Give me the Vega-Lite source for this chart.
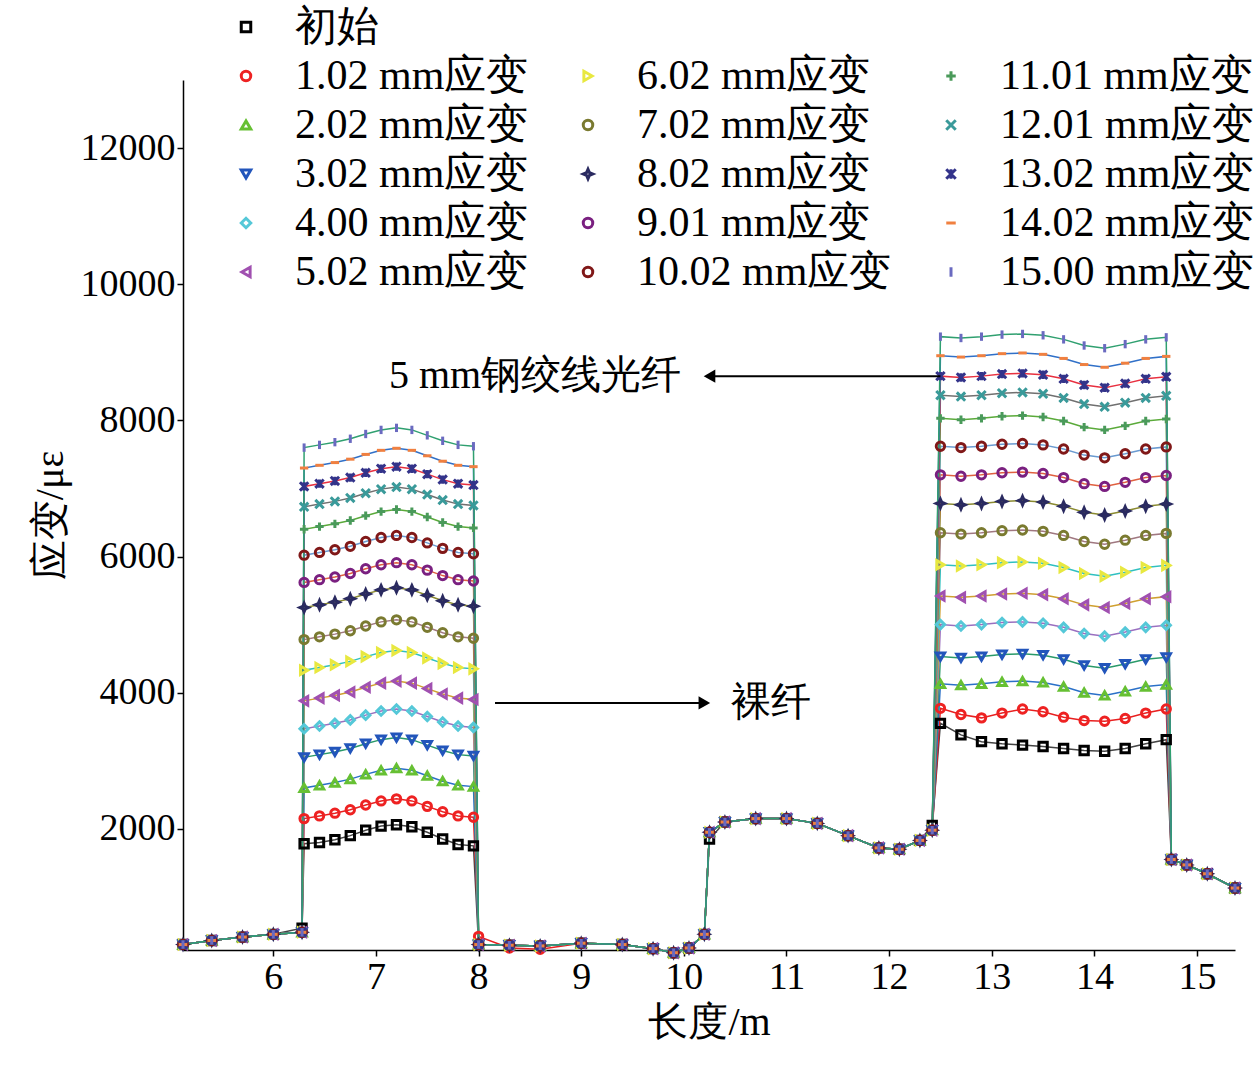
{
  "$schema": "https://vega.github.io/schema/vega-lite/v6.json",
  "width": 1052,
  "height": 870,
  "autosize": "none",
  "padding": {"left": 183, "top": 80, "right": 24, "bottom": 124},
  "background": "white",
  "config": {
    "view": {"stroke": null},
    "font": "Liberation Serif",
    "axis": {"grid": false, "domainColor": "black", "tickColor": "black", "labelColor": "black", "titleColor": "black", "labelFont": "Liberation Serif", "titleFont": "Liberation Serif", "labelFontSize": 38, "titleFontSize": 40, "titleFontWeight": "normal", "domainWidth": 1.5, "tickWidth": 1.5, "tickSize": 6}
  },
  "datasets": {
    "notes": [
      {"x": 8.55, "y": 8650, "label": "5 mm钢绞线光纤"},
      {"x": 10.85, "y": 3850, "label": "裸纤"}
    ],
    "arrows": [
      {"x1": 12.5, "x2": 10.25, "y": 8650, "dir": "left", "hx": 10.25},
      {"x1": 8.16, "x2": 10.2, "y": 3850, "dir": "right", "hx": 10.2}
    ]
  },
  "data": {"values": [
    {"x":5.12,"k00":300,"k01":300,"k02":300,"k03":300,"k04":300,"k05":300,"k06":300,"k07":300,"k08":300,"k09":300,"k10":300,"k11":300,"k12":300,"k13":300,"k14":300,"k15":300},
    {"x":5.4,"k00":360,"k01":360,"k02":360,"k03":360,"k04":360,"k05":360,"k06":360,"k07":360,"k08":360,"k09":360,"k10":360,"k11":360,"k12":360,"k13":360,"k14":360,"k15":360},
    {"x":5.7,"k00":410,"k01":410,"k02":410,"k03":410,"k04":410,"k05":410,"k06":410,"k07":410,"k08":410,"k09":410,"k10":410,"k11":410,"k12":410,"k13":410,"k14":410,"k15":410},
    {"x":6.0,"k00":450,"k01":450,"k02":450,"k03":450,"k04":450,"k05":450,"k06":450,"k07":450,"k08":450,"k09":450,"k10":450,"k11":450,"k12":450,"k13":450,"k14":450,"k15":450},
    {"x":6.28,"k00":540,"k01":480,"k02":480,"k03":480,"k04":480,"k05":480,"k06":480,"k07":480,"k08":480,"k09":480,"k10":480,"k11":480,"k12":480,"k13":480,"k14":480,"k15":480},
    {"x":6.30,"k00":1780,"k01":2150,"k02":2600,"k03":3050,"k04":3470,"k05":3880,"k06":4330,"k07":4780,"k08":5250,"k09":5620,"k10":6020,"k11":6400,"k12":6730,"k13":7030,"k14":7300,"k15":7600},
    {"x":6.45,"k00":1800,"k01":2190,"k02":2640,"k03":3090,"k04":3510,"k05":3920,"k06":4370,"k07":4820,"k08":5290,"k09":5660,"k10":6060,"k11":6440,"k12":6770,"k13":7070,"k14":7340,"k15":7640},
    {"x":6.60,"k00":1840,"k01":2230,"k02":2680,"k03":3130,"k04":3550,"k05":3960,"k06":4410,"k07":4860,"k08":5330,"k09":5700,"k10":6100,"k11":6480,"k12":6810,"k13":7110,"k14":7380,"k15":7680},
    {"x":6.75,"k00":1900,"k01":2280,"k02":2730,"k03":3180,"k04":3600,"k05":4010,"k06":4460,"k07":4910,"k08":5380,"k09":5750,"k10":6150,"k11":6530,"k12":6860,"k13":7160,"k14":7430,"k15":7730},
    {"x":6.90,"k00":1980,"k01":2350,"k02":2800,"k03":3250,"k04":3670,"k05":4080,"k06":4530,"k07":4980,"k08":5450,"k09":5820,"k10":6220,"k11":6600,"k12":6930,"k13":7230,"k14":7500,"k15":7800},
    {"x":7.05,"k00":2040,"k01":2410,"k02":2860,"k03":3310,"k04":3730,"k05":4140,"k06":4590,"k07":5040,"k08":5510,"k09":5880,"k10":6280,"k11":6660,"k12":6990,"k13":7290,"k14":7560,"k15":7860},
    {"x":7.20,"k00":2060,"k01":2440,"k02":2890,"k03":3340,"k04":3760,"k05":4170,"k06":4620,"k07":5070,"k08":5540,"k09":5910,"k10":6310,"k11":6690,"k12":7020,"k13":7320,"k14":7590,"k15":7890},
    {"x":7.35,"k00":2030,"k01":2410,"k02":2860,"k03":3310,"k04":3730,"k05":4140,"k06":4590,"k07":5040,"k08":5510,"k09":5880,"k10":6280,"k11":6660,"k12":6990,"k13":7290,"k14":7560,"k15":7860},
    {"x":7.50,"k00":1950,"k01":2330,"k02":2780,"k03":3230,"k04":3650,"k05":4060,"k06":4510,"k07":4960,"k08":5430,"k09":5800,"k10":6200,"k11":6580,"k12":6910,"k13":7210,"k14":7480,"k15":7780},
    {"x":7.65,"k00":1850,"k01":2250,"k02":2700,"k03":3150,"k04":3570,"k05":3980,"k06":4430,"k07":4880,"k08":5350,"k09":5720,"k10":6120,"k11":6500,"k12":6830,"k13":7130,"k14":7400,"k15":7700},
    {"x":7.80,"k00":1770,"k01":2190,"k02":2640,"k03":3090,"k04":3510,"k05":3920,"k06":4370,"k07":4820,"k08":5290,"k09":5660,"k10":6060,"k11":6440,"k12":6770,"k13":7070,"k14":7340,"k15":7640},
    {"x":7.95,"k00":1750,"k01":2170,"k02":2620,"k03":3070,"k04":3490,"k05":3900,"k06":4350,"k07":4800,"k08":5270,"k09":5640,"k10":6040,"k11":6420,"k12":6750,"k13":7050,"k14":7320,"k15":7620},
    {"x":8.0,"k00":300,"k01":420,"k02":300,"k03":300,"k04":300,"k05":300,"k06":300,"k07":300,"k08":300,"k09":300,"k10":300,"k11":300,"k12":300,"k13":300,"k14":300,"k15":300},
    {"x":8.3,"k00":290,"k01":250,"k02":290,"k03":290,"k04":290,"k05":290,"k06":290,"k07":290,"k08":290,"k09":290,"k10":290,"k11":290,"k12":290,"k13":290,"k14":290,"k15":290},
    {"x":8.6,"k00":280,"k01":230,"k02":280,"k03":280,"k04":280,"k05":280,"k06":280,"k07":280,"k08":280,"k09":280,"k10":280,"k11":280,"k12":280,"k13":280,"k14":280,"k15":280},
    {"x":9.0,"k00":320,"k01":320,"k02":320,"k03":320,"k04":320,"k05":320,"k06":320,"k07":320,"k08":320,"k09":320,"k10":320,"k11":320,"k12":320,"k13":320,"k14":320,"k15":320},
    {"x":9.4,"k00":300,"k01":300,"k02":300,"k03":300,"k04":300,"k05":300,"k06":300,"k07":300,"k08":300,"k09":300,"k10":300,"k11":300,"k12":300,"k13":300,"k14":300,"k15":300},
    {"x":9.7,"k00":240,"k01":240,"k02":240,"k03":240,"k04":240,"k05":240,"k06":240,"k07":240,"k08":240,"k09":240,"k10":240,"k11":240,"k12":240,"k13":240,"k14":240,"k15":240},
    {"x":9.9,"k00":180,"k01":180,"k02":180,"k03":180,"k04":180,"k05":180,"k06":180,"k07":180,"k08":180,"k09":180,"k10":180,"k11":180,"k12":180,"k13":180,"k14":180,"k15":180},
    {"x":10.05,"k00":250,"k01":250,"k02":250,"k03":250,"k04":250,"k05":250,"k06":250,"k07":250,"k08":250,"k09":250,"k10":250,"k11":250,"k12":250,"k13":250,"k14":250,"k15":250},
    {"x":10.2,"k00":450,"k01":450,"k02":450,"k03":450,"k04":450,"k05":450,"k06":450,"k07":450,"k08":450,"k09":450,"k10":450,"k11":450,"k12":450,"k13":450,"k14":450,"k15":450},
    {"x":10.25,"k00":1850,"k01":1950,"k02":1950,"k03":1950,"k04":1950,"k05":1950,"k06":1950,"k07":1950,"k08":1950,"k09":1950,"k10":1950,"k11":1950,"k12":1950,"k13":1950,"k14":1950,"k15":1950},
    {"x":10.4,"k00":2100,"k01":2100,"k02":2100,"k03":2100,"k04":2100,"k05":2100,"k06":2100,"k07":2100,"k08":2100,"k09":2100,"k10":2100,"k11":2100,"k12":2100,"k13":2100,"k14":2100,"k15":2100},
    {"x":10.7,"k00":2150,"k01":2150,"k02":2150,"k03":2150,"k04":2150,"k05":2150,"k06":2150,"k07":2150,"k08":2150,"k09":2150,"k10":2150,"k11":2150,"k12":2150,"k13":2150,"k14":2150,"k15":2150},
    {"x":11.0,"k00":2150,"k01":2150,"k02":2150,"k03":2150,"k04":2150,"k05":2150,"k06":2150,"k07":2150,"k08":2150,"k09":2150,"k10":2150,"k11":2150,"k12":2150,"k13":2150,"k14":2150,"k15":2150},
    {"x":11.3,"k00":2080,"k01":2080,"k02":2080,"k03":2080,"k04":2080,"k05":2080,"k06":2080,"k07":2080,"k08":2080,"k09":2080,"k10":2080,"k11":2080,"k12":2080,"k13":2080,"k14":2080,"k15":2080},
    {"x":11.6,"k00":1900,"k01":1900,"k02":1900,"k03":1900,"k04":1900,"k05":1900,"k06":1900,"k07":1900,"k08":1900,"k09":1900,"k10":1900,"k11":1900,"k12":1900,"k13":1900,"k14":1900,"k15":1900},
    {"x":11.9,"k00":1720,"k01":1720,"k02":1720,"k03":1720,"k04":1720,"k05":1720,"k06":1720,"k07":1720,"k08":1720,"k09":1720,"k10":1720,"k11":1720,"k12":1720,"k13":1720,"k14":1720,"k15":1720},
    {"x":12.1,"k00":1700,"k01":1700,"k02":1700,"k03":1700,"k04":1700,"k05":1700,"k06":1700,"k07":1700,"k08":1700,"k09":1700,"k10":1700,"k11":1700,"k12":1700,"k13":1700,"k14":1700,"k15":1700},
    {"x":12.3,"k00":1830,"k01":1830,"k02":1830,"k03":1830,"k04":1830,"k05":1830,"k06":1830,"k07":1830,"k08":1830,"k09":1830,"k10":1830,"k11":1830,"k12":1830,"k13":1830,"k14":1830,"k15":1830},
    {"x":12.42,"k00":2050,"k01":1980,"k02":1980,"k03":1980,"k04":1980,"k05":1980,"k06":1980,"k07":1980,"k08":1980,"k09":1980,"k10":1980,"k11":1980,"k12":1980,"k13":1980,"k14":1980,"k15":1980},
    {"x":12.50,"k00":3550,"k01":3770,"k02":4130,"k03":4530,"k04":5000,"k05":5420,"k06":5880,"k07":6350,"k08":6780,"k09":7200,"k10":7620,"k11":8030,"k12":8370,"k13":8650,"k14":8950,"k15":9230},
    {"x":12.70,"k00":3380,"k01":3680,"k02":4110,"k03":4510,"k04":4980,"k05":5400,"k06":5860,"k07":6330,"k08":6760,"k09":7180,"k10":7600,"k11":8010,"k12":8350,"k13":8630,"k14":8930,"k15":9210},
    {"x":12.90,"k00":3280,"k01":3630,"k02":4130,"k03":4530,"k04":5000,"k05":5420,"k06":5880,"k07":6350,"k08":6780,"k09":7200,"k10":7620,"k11":8030,"k12":8370,"k13":8650,"k14":8950,"k15":9230},
    {"x":13.10,"k00":3250,"k01":3700,"k02":4160,"k03":4560,"k04":5030,"k05":5450,"k06":5910,"k07":6380,"k08":6810,"k09":7230,"k10":7650,"k11":8060,"k12":8400,"k13":8680,"k14":8980,"k15":9260},
    {"x":13.30,"k00":3230,"k01":3760,"k02":4170,"k03":4570,"k04":5040,"k05":5460,"k06":5920,"k07":6390,"k08":6820,"k09":7240,"k10":7660,"k11":8070,"k12":8410,"k13":8690,"k14":8990,"k15":9270},
    {"x":13.50,"k00":3210,"k01":3720,"k02":4150,"k03":4550,"k04":5020,"k05":5440,"k06":5900,"k07":6370,"k08":6800,"k09":7220,"k10":7640,"k11":8050,"k12":8390,"k13":8670,"k14":8970,"k15":9250},
    {"x":13.70,"k00":3180,"k01":3640,"k02":4090,"k03":4490,"k04":4960,"k05":5380,"k06":5840,"k07":6310,"k08":6740,"k09":7160,"k10":7580,"k11":7990,"k12":8330,"k13":8610,"k14":8910,"k15":9190},
    {"x":13.90,"k00":3150,"k01":3590,"k02":4000,"k03":4400,"k04":4870,"k05":5290,"k06":5750,"k07":6220,"k08":6650,"k09":7070,"k10":7490,"k11":7900,"k12":8240,"k13":8520,"k14":8820,"k15":9100},
    {"x":14.10,"k00":3140,"k01":3580,"k02":3960,"k03":4360,"k04":4830,"k05":5250,"k06":5710,"k07":6180,"k08":6610,"k09":7030,"k10":7450,"k11":7860,"k12":8200,"k13":8480,"k14":8780,"k15":9060},
    {"x":14.30,"k00":3180,"k01":3620,"k02":4020,"k03":4420,"k04":4890,"k05":5310,"k06":5770,"k07":6240,"k08":6670,"k09":7090,"k10":7510,"k11":7920,"k12":8260,"k13":8540,"k14":8840,"k15":9120},
    {"x":14.50,"k00":3250,"k01":3700,"k02":4090,"k03":4490,"k04":4960,"k05":5380,"k06":5840,"k07":6310,"k08":6740,"k09":7160,"k10":7580,"k11":7990,"k12":8330,"k13":8610,"k14":8910,"k15":9190},
    {"x":14.70,"k00":3310,"k01":3760,"k02":4120,"k03":4520,"k04":4990,"k05":5410,"k06":5870,"k07":6340,"k08":6770,"k09":7190,"k10":7610,"k11":8020,"k12":8360,"k13":8640,"k14":8940,"k15":9220},
    {"x":14.75,"k00":1550,"k01":1550,"k02":1550,"k03":1550,"k04":1550,"k05":1550,"k06":1550,"k07":1550,"k08":1550,"k09":1550,"k10":1550,"k11":1550,"k12":1550,"k13":1550,"k14":1550,"k15":1550},
    {"x":14.9,"k00":1470,"k01":1470,"k02":1470,"k03":1470,"k04":1470,"k05":1470,"k06":1470,"k07":1470,"k08":1470,"k09":1470,"k10":1470,"k11":1470,"k12":1470,"k13":1470,"k14":1470,"k15":1470},
    {"x":15.1,"k00":1340,"k01":1340,"k02":1340,"k03":1340,"k04":1340,"k05":1340,"k06":1340,"k07":1340,"k08":1340,"k09":1340,"k10":1340,"k11":1340,"k12":1340,"k13":1340,"k14":1340,"k15":1340},
    {"x":15.37,"k00":1130,"k01":1130,"k02":1130,"k03":1130,"k04":1130,"k05":1130,"k06":1130,"k07":1130,"k08":1130,"k09":1130,"k10":1130,"k11":1130,"k12":1130,"k13":1130,"k14":1130,"k15":1130}
  ]},
  "transform": [
    {"fold": ["k00","k01","k02","k03","k04","k05","k06","k07","k08","k09","k10","k11","k12","k13","k14","k15"], "as": ["k", "v"]}
  ],
  "encoding": {
    "x": {"field": "x", "type": "quantitative", "title": "长度/m", "scale": {"domain": [5.12, 15.37], "nice": false, "zero": false}, "axis": {"values": [6,7,8,9,10,11,12,13,14,15], "titlePadding": 6}},
    "y": {"field": "v", "type": "quantitative", "title": "应变/με", "scale": {"domain": [220, 13000], "nice": false, "zero": false}, "axis": {"values": [2000,4000,6000,8000,10000,12000], "format": "d", "titlePadding": 10}}
  },
  "layer": [
    {
      "mark": {"type": "line", "strokeWidth": 1.5},
      "encoding": {
        "color": {"field": "k", "type": "nominal", "legend": null,
          "scale": {"domain": ["k00","k01","k02","k03","k04","k05","k06","k07","k08","k09","k10","k11","k12","k13","k14","k15"],
                    "range": ["#444444","#e82020","#2a70c8","#2a9a6a","#9a70c0","#d0a030","#30c0c0","#a07880","#8a8a30","#e06040","#6a9ad0","#5aaa3a","#707070","#e83040","#3070c8","#30a070"]}}
      }
    },
    {
      "mark": {"type": "point", "filled": false, "strokeWidth": 3, "size": 70, "opacity": 1},
      "encoding": {
        "color": {"field": "k", "type": "nominal",
          "scale": {"domain": ["k00","k01","k02","k03","k04","k05","d1","k06","k07","k08","k09","k10","d2","k11","k12","k13","k14","k15"],
                    "range": ["#000000","#ee2222","#66c033","#2255bb","#55c8d8","#a050b0","transparent","#e8e840","#7a7a30","#2a2a60","#7a2080","#801818","transparent","#4a9a5a","#3a9a9a","#33338a","#f08040","#6a6ac0"]},
          "legend": {"title": null, "orient": "none", "legendX": 22, "legendY": -74, "columns": 3, "direction": "vertical", "columnPadding": 18, "rowPadding": 7,
            "labelFontSize": 42, "labelFont": "Liberation Serif", "labelColor": "black", "labelLimit": 400, "symbolSize": 90, "symbolStrokeWidth": 3, "symbolOffset": 20, "labelOffset": 28,
            "labelExpr": "{'k00':'初始','d1':'','d2':'','k01':'1.02 mm应变','k02':'2.02 mm应变','k03':'3.02 mm应变','k04':'4.00 mm应变','k05':'5.02 mm应变','k06':'6.02 mm应变','k07':'7.02 mm应变','k08':'8.02 mm应变','k09':'9.01 mm应变','k10':'10.02 mm应变','k11':'11.01 mm应变','k12':'12.01 mm应变','k13':'13.02 mm应变','k14':'14.02 mm应变','k15':'15.00 mm应变'}[datum.label]"}},
        "shape": {"field": "k", "type": "nominal",
          "scale": {"domain": ["k00","k01","k02","k03","k04","k05","d1","k06","k07","k08","k09","k10","d2","k11","k12","k13","k14","k15"],
                    "range": ["square","circle","triangle-up","triangle-down","diamond","triangle-left","circle","triangle-right","circle","M0,-1L0.3,-0.3L1,0L0.3,0.3L0,1L-0.3,0.3L-1,0L-0.3,-0.3Z","circle","circle","circle","M-1,0H1M0,-1V1","M-1,-1L1,1M-1,1L1,-1","M-1,-1L1,1M-1,1L1,-1M0,-1V1","M-1,0H1","M0,-1V1"]}}
      }
    },
    {
      "data": {"name": "arrows"},
      "mark": {"type": "rule", "color": "black", "strokeWidth": 2},
      "encoding": {"x": {"field": "x1", "type": "quantitative"}, "x2": {"field": "x2"}, "y": {"field": "y", "type": "quantitative"}}
    },
    {
      "data": {"name": "arrows"},
      "mark": {"type": "point", "filled": true, "color": "black", "size": 180, "opacity": 1},
      "encoding": {"x": {"field": "hx", "type": "quantitative"}, "y": {"field": "y", "type": "quantitative"},
        "shape": {"field": "dir", "type": "nominal", "legend": null, "scale": {"domain": ["left","right"], "range": ["triangle-left","triangle-right"]}}}
    },
    {
      "data": {"name": "notes"},
      "mark": {"type": "text", "fontSize": 40, "font": "Liberation Serif", "color": "black"},
      "encoding": {"x": {"field": "x", "type": "quantitative"}, "y": {"field": "y", "type": "quantitative"}, "text": {"field": "label"}}
    }
  ],
  "resolve": {"scale": {"color": "independent", "shape": "independent"}}
}
